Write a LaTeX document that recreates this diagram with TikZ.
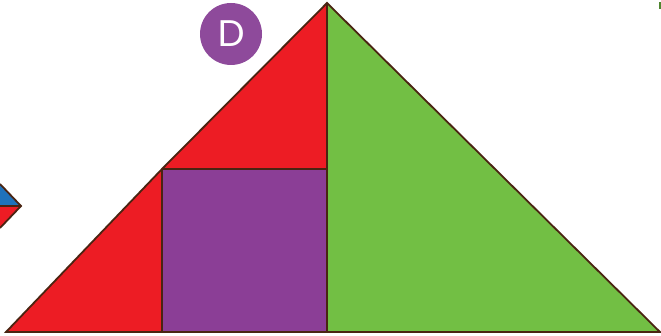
\documentclass[tikz,border=0pt]{standalone}
\usepackage{fontspec}
\setmainfont{Lato}
\definecolor{tred}{HTML}{ED1C24}
\definecolor{tpurple}{HTML}{8B3E96}
\definecolor{tgreen}{HTML}{72BF44}
\definecolor{tblue}{HTML}{1F72BA}
\definecolor{tline}{HTML}{4A2412}
\definecolor{dpurple}{HTML}{8E4A9B}
\begin{document}
\begin{tikzpicture}[x=1pt,y=-1pt,
  piece/.style={draw=tline,line width=1.8pt,line join=miter},
  badge/.style={circle,fill=dpurple,minimum size=62pt,inner sep=0pt,text=white,font=\fontsize{36}{36}\selectfont}]
\useasboundingbox (0,0) rectangle (661,336);
% coordinates
\coordinate (A) at (327,3);
\coordinate (BL) at (6,332);
\coordinate (BR) at (660,332);
\coordinate (SQtl) at (162,169);
\coordinate (SQtr) at (327,169);
\coordinate (SQbl) at (162,332);
\coordinate (SQbr) at (327,332);
% pieces
\fill[tgreen] (A) -- (BR) -- (SQbr) -- cycle;
\fill[tred] (A) -- (SQtr) -- (SQtl) -- cycle;
\fill[tpurple] (SQtl) rectangle (SQbr);
\fill[tred] (BL) -- (SQbl) -- (SQtl) -- cycle;
\draw[piece] (A) -- (BR) -- (BL) -- (SQtl) -- cycle;
\draw[piece] (A) -- (SQbr);
\draw[piece] (SQtl) -- (SQtr);
\draw[piece] (SQtl) -- (SQbl);
% left fragment
\coordinate (Ft) at (0,184);
\coordinate (Fm) at (0,206);
\coordinate (Fb) at (0,228);
\coordinate (Fp) at (21,206);
\fill[tblue] (Ft) -- (Fp) -- (Fm) -- cycle;
\fill[tred] (Fm) -- (Fp) -- (Fb) -- cycle;
\draw[piece] (Ft) -- (Fp) -- (Fb);
\draw[piece] (Fm) -- (Fp);
% badge
\node[badge] (D) at (231,34) {D};
% small green mark
\coordinate (g1) at (659,2);
\coordinate (g2) at (661,9);
\fill[tgreen!70!black] (g1) rectangle (g2);
\end{tikzpicture}
\end{document}
